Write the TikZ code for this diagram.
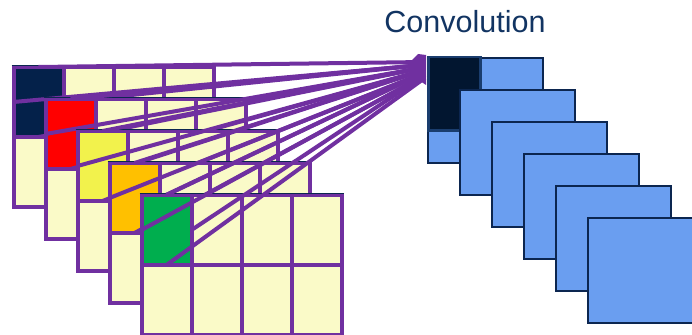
\documentclass[tikz,border=0pt]{standalone}
\usepackage{fontspec}
\setmainfont{Liberation Sans}
\definecolor{gridpurple}{HTML}{7030A0}
\definecolor{cellyellow}{HTML}{FAFAC8}
\definecolor{kernA}{HTML}{04214A}
\definecolor{kernB}{HTML}{FF0000}
\definecolor{kernC}{HTML}{F2F24C}
\definecolor{kernD}{HTML}{FFC000}
\definecolor{kernE}{HTML}{00AE4E}
\definecolor{mapblue}{HTML}{6A9EF0}
\definecolor{mapedge}{HTML}{0C2650}
\definecolor{outcell}{HTML}{021630}
\definecolor{outedge}{HTML}{1A3D6E}
\definecolor{titlenavy}{HTML}{123462}
\tikzset{
  gridline/.style={draw=gridpurple, line width=4pt},
  conn/.style={draw=gridpurple, line width=4pt},
  topedge/.style={draw=mapedge, line width=0.8pt},
  mapbox/.style={fill=mapblue, draw=mapedge, line width=2pt},
}
\begin{document}
\begin{tikzpicture}[x=1pt,y=-1pt]
\useasboundingbox (0,0) rectangle (692,334);

% title
\node[anchor=base, text=titlenavy, font=\fontsize{30.5}{36}\selectfont, inner sep=0pt]
  (title) at (465,33) {Convolution};

% output feature maps
\node[mapbox, minimum width=115pt, minimum height=105pt, inner sep=0pt, anchor=north west]
  (map0) at (427,57) {};
\node[fill=outcell, draw=outedge, line width=2.5pt, minimum width=52pt, minimum height=73pt,
  inner sep=0pt, anchor=north west] (out) at (427,56) {};
\foreach \j in {1,...,5}{
  \node[mapbox, minimum width=115pt, minimum height=105pt, inner sep=0pt, anchor=north west]
    (map\j) at (427+32*\j,57+32*\j) {};
}

% input channels, each with its highlighted kernel cell and the
% connectors from that cell to the output unit
\foreach \k/\col in {0/kernA,1/kernB,2/kernC,3/kernD,4/kernE}{
  \pgfmathsetmacro{\xa}{13.5+32*\k}
  \pgfmathsetmacro{\ya}{67+32*\k}
  \fill[cellyellow] (\xa,\ya) rectangle ++(200,140);
  \fill[\col] (\xa,\ya) rectangle ++(50,70);
  \foreach \c in {50,100,150}
    \draw[gridline] (\xa+\c,\ya) -- ++(0,140);
  \draw[gridline] (\xa,\ya+70) -- ++(200,0);
  \draw[gridline] (\xa,\ya) rectangle ++(200,140);
  \draw[topedge] (\xa-2,\ya-2) -- ++(204,0);
  % edge midpoints of the kernel cell
  \coordinate (src\k t) at (\xa+25,\ya);
  \coordinate (src\k l) at (\xa,\ya+35);
  \coordinate (src\k r) at (\xa+50,\ya+35);
  \coordinate (src\k b) at (\xa+25,\ya+70);
  \pgfmathsetmacro{\yt}{62+0.08*(\ya-67)}
  \pgfmathsetmacro{\yl}{62+0.08*(\ya+35-67)}
  \pgfmathsetmacro{\yb}{62+0.08*(\ya+70-67)}
  \coordinate (dst\k t) at (425,\yt);
  \coordinate (dst\k l) at (425,\yl);
  \coordinate (dst\k r) at (425,\yl);
  \coordinate (dst\k b) at (425,\yb);
  \foreach \s in {t,l,r,b}
    \draw[conn] (src\k\s) -- (dst\k\s);
}

% where the connectors meet the output unit
\coordinate (hubA) at (411,61);
\coordinate (hubB) at (418,54);
\coordinate (hubC) at (426,55);
\coordinate (hubD) at (426,85);
\coordinate (hubE) at (417,79);
\fill[gridpurple] (hubA) -- (hubB) -- (hubC) -- (hubD) -- (hubE) -- cycle;
\end{tikzpicture}
\end{document}
